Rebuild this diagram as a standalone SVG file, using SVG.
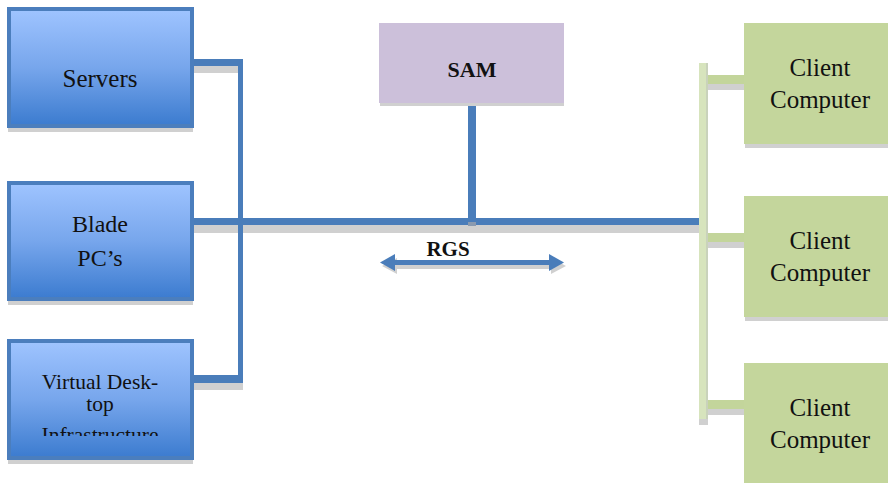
<svg xmlns="http://www.w3.org/2000/svg" width="888" height="485" viewBox="0 0 888 485">
  <defs>
    <linearGradient id="blueFill" x1="0" y1="0" x2="0" y2="1">
      <stop offset="0" stop-color="#9fc4ff"/>
      <stop offset="0.5" stop-color="#77a6ec"/>
      <stop offset="1" stop-color="#3b7bcf"/>
    </linearGradient>
    <clipPath id="vdiClip">
      <rect x="9" y="341" width="183" height="95"/>
    </clipPath>
  </defs>
  <style>
    .blueBox { fill: url(#blueFill); stroke: #4b7ebd; stroke-width: 4; }
    .shadow { fill: #d0d0d0; }
    .bus { fill: #4a7dba; }
    .greenBus { fill: #d7e4bd; }
    .greenLink { fill: #c3d59b; }
    .client { fill: #c4d69c; }
    .sam { fill: #ccc0da; }
    .label { font-family: "Liberation Serif", "Times New Roman", serif; fill: #111; text-anchor: middle; }
    .bold { font-weight: bold; }
  </style>
  <rect width="888" height="485" fill="#ffffff"/>

  <!-- connectors -->
  <g id="connectors">
    <!-- left bus and its links -->
    <rect class="shadow" x="194" y="66" width="47" height="7"/>
    <rect class="shadow" x="194" y="225" width="505" height="8"/>
    <rect class="shadow" x="194" y="383" width="49" height="7"/>
    <rect class="bus" x="194" y="59" width="49" height="7"/>
    <rect class="bus" x="238" y="59" width="5" height="324"/>
    <rect class="bus" x="194" y="218" width="505" height="7"/>
    <rect class="bus" x="194" y="375" width="49" height="8"/>
    <!-- SAM drop -->
    <rect class="bus" x="468" y="103" width="8" height="115"/>
    <rect x="468" y="222" width="8" height="4" fill="#8a9ab0"/>
    <!-- RGS double arrow -->
    <g transform="translate(2,4)" class="shadow">
      <rect x="394" y="260" width="156" height="5"/>
      <polygon points="380,262 395,254 395,270"/>
      <polygon points="564,262 549,254 549,270"/>
    </g>
    <g fill="#4a7dba">
      <rect x="394" y="260" width="156" height="5"/>
      <polygon points="380,262.5 395,254 395,271"/>
      <polygon points="564,262.5 549,254 549,271"/>
    </g>
    <!-- client bus and links -->
    <rect class="shadow" x="699" y="419" width="9" height="6"/>
    <rect class="greenBus" x="699" y="63" width="9" height="356"/>
    <rect x="706" y="63" width="2" height="356" fill="#c9d2bb"/>
    <rect class="shadow" x="708" y="84" width="37" height="6"/>
    <rect class="greenLink" x="708" y="75" width="37" height="9"/>
    <rect class="shadow" x="708" y="242" width="37" height="6"/>
    <rect class="greenLink" x="708" y="233" width="37" height="9"/>
    <rect class="shadow" x="708" y="409" width="37" height="6"/>
    <rect class="greenLink" x="708" y="400" width="37" height="9"/>
  </g>

  <g id="servers">
    <rect class="shadow" x="8" y="126" width="185" height="6"/>
    <rect class="blueBox" x="9" y="9" width="183" height="117"/>
    <text class="label" x="100" y="87" font-size="25">Servers</text>
  </g>

  <g id="blade-pcs">
    <rect class="shadow" x="8" y="299" width="185" height="6"/>
    <rect class="blueBox" x="9" y="183" width="183" height="116"/>
    <text class="label" x="100" y="232" font-size="24">Blade</text>
    <text class="label" x="100" y="266" font-size="24">PC’s</text>
  </g>

  <g id="vdi">
    <rect class="shadow" x="8" y="458" width="185" height="6"/>
    <rect class="blueBox" x="9" y="341" width="183" height="117"/>
    <text class="label" x="100" y="389" font-size="21.5">Virtual Desk-</text>
    <text class="label" x="100" y="411" font-size="21.5">top</text>
    <text class="label" x="100" y="442" font-size="21.5" clip-path="url(#vdiClip)">Infrastructure</text>
  </g>

  <g id="sam">
    <rect class="shadow" x="380" y="101" width="184" height="5"/>
    <rect class="sam" x="379" y="23" width="185" height="80"/>
    <text class="label bold" x="472" y="77" font-size="22">SAM</text>
  </g>

  <g id="rgs-label">
    <text class="label bold" x="448" y="256" font-size="21">RGS</text>
  </g>

  <g id="client-1">
    <rect class="shadow" x="745" y="144" width="143" height="4"/>
    <rect class="client" x="744" y="23" width="144" height="121"/>
    <text class="label" x="820" y="76" font-size="25">Client</text>
    <text class="label" x="820" y="108" font-size="25">Computer</text>
  </g>

  <g id="client-2">
    <rect class="shadow" x="745" y="317" width="143" height="4"/>
    <rect class="client" x="744" y="196" width="144" height="121"/>
    <text class="label" x="820" y="249" font-size="25">Client</text>
    <text class="label" x="820" y="281" font-size="25">Computer</text>
  </g>

  <g id="client-3">
    <rect class="client" x="744" y="363" width="144" height="120"/>
    <text class="label" x="820" y="416" font-size="25">Client</text>
    <text class="label" x="820" y="448" font-size="25">Computer</text>
  </g>
</svg>
